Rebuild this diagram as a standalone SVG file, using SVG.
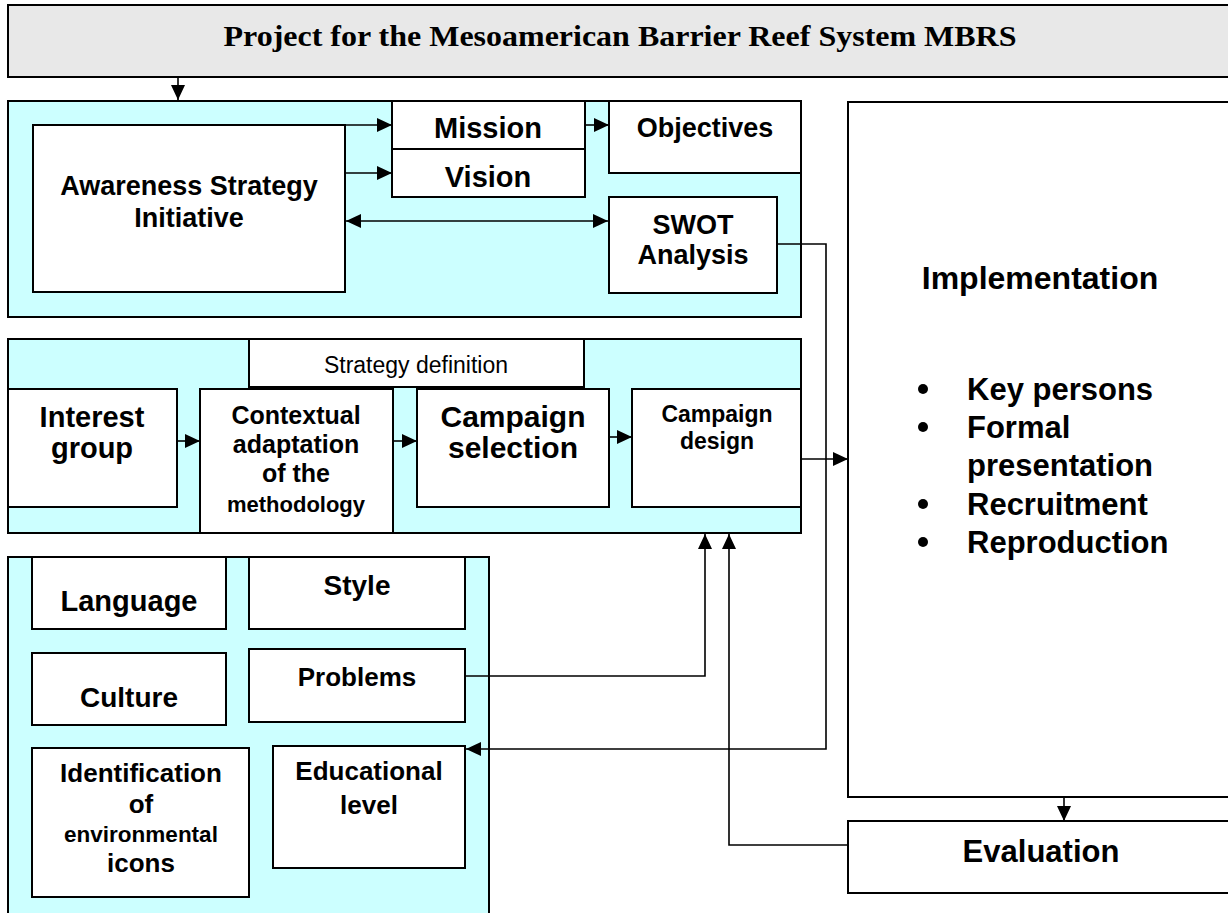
<svg xmlns="http://www.w3.org/2000/svg" width="1228" height="913" viewBox="0 0 1228 913">
<style>
.box{fill:#fff;stroke:#000;stroke-width:2}
.panel{fill:#ccffff;stroke:#000;stroke-width:2}
.hdr{fill:#e8e8e8;stroke:#000;stroke-width:2}
.c{fill:none;stroke:#000;stroke-width:1.6}
.t{font-family:"Liberation Sans",Arial,sans-serif;font-weight:bold;fill:#000;text-anchor:middle}
.r{font-family:"Liberation Sans",Arial,sans-serif;fill:#000;text-anchor:middle}
.s{font-family:"Liberation Serif","Times New Roman",serif;font-weight:bold;fill:#000;text-anchor:middle}
</style>
<defs>
<marker id="ah" markerUnits="userSpaceOnUse" markerWidth="16" markerHeight="14" refX="15" refY="7" orient="auto-start-reverse">
<path d="M0,0 L15,7 L0,14 z" fill="#000"/>
</marker>
</defs>
<rect width="1228" height="913" fill="#fff"/>

<g id="header">
<rect class="hdr" x="8" y="5" width="1230" height="72"/>
<text class="s" x="620" y="46" font-size="30" textLength="793" lengthAdjust="spacingAndGlyphs">Project for the Mesoamerican Barrier Reef System MBRS</text>
</g>

<g id="panel-top"><rect class="panel" x="8" y="101" width="793" height="216"/></g>
<g id="panel-mid"><rect class="panel" x="8" y="339" width="793" height="194"/></g>
<g id="panel-bottom"><rect class="panel" x="8" y="557" width="481" height="400"/></g>

<g id="awareness">
<rect class="box" x="33" y="125" width="312" height="167"/>
<text class="t" font-size="27" x="189" y="195">Awareness Strategy</text>
<text class="t" font-size="27" x="189" y="227">Initiative</text>
</g>
<g id="mission">
<rect class="box" x="392" y="101" width="193" height="48"/>
<text class="t" font-size="29" x="488" y="138">Mission</text>
</g>
<g id="vision">
<rect class="box" x="392" y="149" width="193" height="48"/>
<text class="t" font-size="29" x="488" y="187">Vision</text>
</g>
<g id="objectives">
<rect class="box" x="609" y="101" width="192" height="72"/>
<text class="t" font-size="27" x="705" y="137">Objectives</text>
</g>
<g id="swot">
<rect class="box" x="609" y="197" width="168" height="96"/>
<text class="t" font-size="27" x="693" y="234">SWOT</text>
<text class="t" font-size="27" x="693" y="264">Analysis</text>
</g>

<g id="strategy-definition">
<rect class="box" x="249" y="339" width="335" height="48"/>
<text class="r" font-size="23" x="416" y="373">Strategy definition</text>
</g>
<g id="interest-group">
<rect class="box" x="8" y="389" width="169" height="118"/>
<text class="t" font-size="29" x="92" y="427">Interest</text>
<text class="t" font-size="29" x="92" y="458">group</text>
</g>
<g id="contextual">
<rect class="box" x="200" y="389" width="193" height="144"/>
<text class="t" font-size="25" x="296" y="424">Contextual</text>
<text class="t" font-size="25" x="296" y="453">adaptation</text>
<text class="t" font-size="25" x="296" y="482">of the</text>
<text class="t" font-size="22" x="296" y="512">methodology</text>
</g>
<g id="campaign-selection">
<rect class="box" x="417" y="389" width="192" height="118"/>
<text class="t" font-size="30" x="513" y="427">Campaign</text>
<text class="t" font-size="30" x="513" y="458">selection</text>
</g>
<g id="campaign-design">
<rect class="box" x="632" y="389" width="169" height="118"/>
<text class="t" font-size="23" x="717" y="422">Campaign</text>
<text class="t" font-size="23" x="717" y="449">design</text>
</g>

<g id="language">
<rect class="box" x="32" y="557" width="194" height="72"/>
<text class="t" font-size="29" x="129" y="611">Language</text>
</g>
<g id="style">
<rect class="box" x="249" y="557" width="216" height="72"/>
<text class="t" font-size="28" x="357" y="595">Style</text>
</g>
<g id="culture">
<rect class="box" x="32" y="653" width="194" height="72"/>
<text class="t" font-size="28" x="129" y="707">Culture</text>
</g>
<g id="problems">
<rect class="box" x="249" y="649" width="216" height="73"/>
<text class="t" font-size="26" x="357" y="686">Problems</text>
</g>
<g id="identification">
<rect class="box" x="32" y="748" width="217" height="149"/>
<text class="t" font-size="26" x="141" y="782">Identification</text>
<text class="t" font-size="26" x="141" y="813">of</text>
<text class="t" font-size="22.5" x="141" y="842">environmental</text>
<text class="t" font-size="26" x="141" y="872">icons</text>
</g>
<g id="educational">
<rect class="box" x="273" y="746" width="192" height="122"/>
<text class="t" font-size="26" x="369" y="780">Educational</text>
<text class="t" font-size="26" x="369" y="814">level</text>
</g>

<g id="implementation">
<rect class="box" x="848" y="102" width="400" height="695"/>
<text class="t" font-size="32" x="1040" y="289">Implementation</text>
<g font-family="'Liberation Sans',Arial,sans-serif" font-weight="bold" font-size="31">
<circle cx="923" cy="389" r="5"/>
<text x="967" y="400">Key persons</text>
<circle cx="923" cy="427" r="5"/>
<text x="967" y="438">Formal</text>
<text x="967" y="476">presentation</text>
<circle cx="923" cy="504" r="5"/>
<text x="967" y="515">Recruitment</text>
<circle cx="923" cy="542" r="5"/>
<text x="967" y="553">Reproduction</text>
</g>
</g>
<g id="evaluation">
<rect class="box" x="848" y="821" width="400" height="72"/>
<text class="t" font-size="31" x="1041" y="862">Evaluation</text>
</g>

<g id="connectors">
<path class="c" d="M178,77 V100" marker-end="url(#ah)"/>
<path class="c" d="M345,125 H392" marker-end="url(#ah)"/>
<path class="c" d="M345,173 H392" marker-end="url(#ah)"/>
<path class="c" d="M585,125 H609" marker-end="url(#ah)"/>
<path class="c" d="M346,221 H608" marker-start="url(#ah)" marker-end="url(#ah)"/>
<path class="c" d="M177,441 H200" marker-end="url(#ah)"/>
<path class="c" d="M393,441 H417" marker-end="url(#ah)"/>
<path class="c" d="M609,437 H632" marker-end="url(#ah)"/>
<path class="c" d="M801,459 H848" marker-end="url(#ah)"/>
<path class="c" d="M777,244 H826 V749 H466" marker-end="url(#ah)"/>
<path class="c" d="M465,676 H705 V534" marker-end="url(#ah)"/>
<path class="c" d="M848,845 H729 V534" marker-end="url(#ah)"/>
<path class="c" d="M1064,797 V821" marker-end="url(#ah)"/>
</g>
</svg>
